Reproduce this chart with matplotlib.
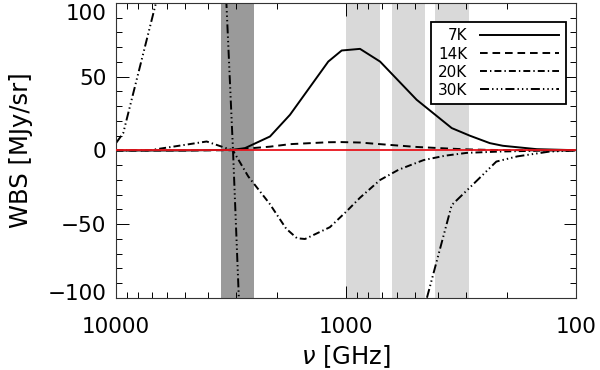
import matplotlib
matplotlib.use("Agg")
import matplotlib.pyplot as plt
import matplotlib.transforms as mtransforms
from matplotlib.ticker import LogLocator, MultipleLocator, FixedLocator, FixedFormatter, NullFormatter

plt.rcParams['font.family'] = ['DejaVu Sans']
plt.rcParams['lines.scale_dashes'] = False
plt.rcParams['axes.unicode_minus'] = True

# ---- data (frequency in GHz, WBS in MJy/sr) ----
nu_7k = [10000, 5000, 3099, 2749, 2140, 1752, 1194, 1044, 869, 711, 493, 347, 289, 237, 208, 148, 106, 100]
wbs_7k = [0, 0, 0.5, 1.6, 9.5, 24.2, 60.3, 67.8, 68.9, 60.3, 34.4, 15.2, 10.0, 5.0, 3.2, 0.9, 0.3, 0.2]

nu_14k = [10000, 5000, 3099, 2749, 2140, 1752, 1194, 1044, 869, 711, 493, 347, 289, 237, 148, 100]
wbs_14k = [0, 0, 0.2, 1.2, 2.6, 4.3, 5.6, 5.7, 5.4, 4.3, 2.4, 1.2, 0.7, 0.4, 0.1, 0.0]

nu_20k = [10000, 7112, 4034, 3099, 2660, 2150, 1820, 1633, 1507, 1175, 991, 869, 711, 590, 460, 370, 298, 214, 130, 100]
wbs_20k = [0, 0.2, 6.1, 0.0, -17.6, -36.0, -53.0, -59.5, -60.0, -52.0, -41.0, -32.0, -20.0, -13.0, -6.5, -3.5, -1.6, -0.7, 0.0, 0.0]

nu_30k = [10000, 9300, 5820, 3899, 3099, 2749, 493, 347, 289, 222, 180, 130, 100]
wbs_30k = [5.0, 11.8, 138.0, 347.0, 0.0, -205.0, -126.0, -37.0, -25.0, -7.5, -4.0, -0.7, 0.0]

band_dark = (2506, 3491)
bands_light = [(711, 1000), (454, 632), (293, 410)]

labels = ['7K', '14K', '20K', '30K']

# ---- figure ----
fig = plt.figure(figsize=(6.0, 3.7), dpi=100)
ax = fig.add_axes([0.1933, 0.1946, 0.7667, 0.7973])

ax.axvspan(band_dark[0], band_dark[1], color='#9a9a9a', lw=0, zorder=0)
for lo, hi in bands_light:
    ax.axvspan(lo, hi, color='#d9d9d9', lw=0, zorder=0)

lw = 1.4
ax.plot(nu_7k, wbs_7k, color='black', lw=lw, ls='-', label=labels[0], zorder=2)
ax.plot(nu_14k, wbs_14k, color='black', lw=lw, dashes=(5.5, 3.5), label=labels[1], zorder=2)
ax.plot(nu_20k, wbs_20k, color='black', lw=lw, dashes=(5, 2.2, 1, 2.2), label=labels[2], zorder=2)
ax.plot(nu_30k, wbs_30k, color='black', lw=lw, dashes=(6.5, 2.2, 1, 2.2, 1, 2.2, 1, 2.2), label=labels[3], zorder=2)

ax.axhline(0, color='#e8141c', lw=1.3, zorder=3)

ax.set_xscale('log')
ax.set_xlim(10000, 100)
ax.set_ylim(-100, 100)

ax.xaxis.set_major_locator(FixedLocator([10000, 1000, 100]))
ax.xaxis.set_major_formatter(FixedFormatter(['10000', '1000', '100']))
ax.xaxis.set_minor_locator(LogLocator(base=10, subs=range(2, 10)))
ax.xaxis.set_minor_formatter(NullFormatter())
ax.yaxis.set_major_locator(MultipleLocator(50))
ax.yaxis.set_minor_locator(MultipleLocator(10))

ax.tick_params(which='both', direction='in', top=True, right=True, labelsize=15.5, width=0.7)
ax.tick_params(which='major', length=9)
ax.tick_params(which='minor', length=4.5)
ax.tick_params(axis='x', which='major', pad=14)
ax.tick_params(axis='y', which='major', pad=7)
for s in ax.spines.values():
    s.set_linewidth(0.8)
    s.set_color('#333333')

ax.set_xlabel(r'$\nu$ [GHz]', fontsize=17.5, labelpad=4)
ax.set_ylabel('WBS [MJy/sr]', fontsize=17.5, labelpad=10)

fig.canvas.draw()
ylabs = ax.get_yticklabels()
for t in ylabs:
    txt = t.get_text()
    if txt == '100':
        t.set_transform(t.get_transform() + mtransforms.ScaledTranslation(0, -9 / 100, fig.dpi_scale_trans))
    elif txt in ('\u2212100', '-100'):
        t.set_transform(t.get_transform() + mtransforms.ScaledTranslation(0, 6 / 100, fig.dpi_scale_trans))

leg = ax.legend(loc='upper right', bbox_to_anchor=(0.978, 0.937), fontsize=11,
                markerfirst=False, handlelength=5.2, handletextpad=0.8,
                labelspacing=0.2, borderpad=0.45, borderaxespad=0, fancybox=False, framealpha=1,
                edgecolor='black')
leg.get_frame().set_linewidth(1.3)

fig.savefig('out.png', dpi=100)
